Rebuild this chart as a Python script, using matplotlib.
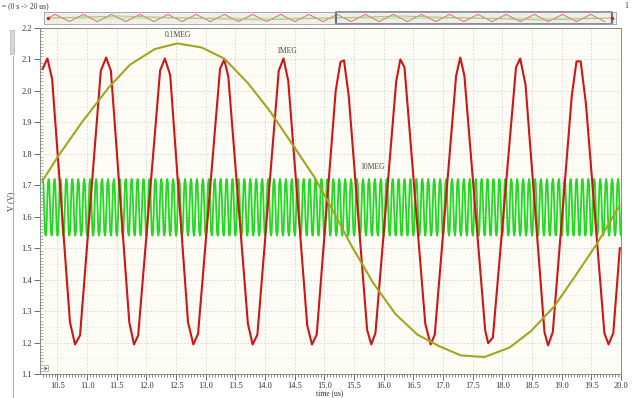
import numpy as np
import matplotlib
matplotlib.use("Agg")
import matplotlib.pyplot as plt
from matplotlib.ticker import MultipleLocator, FormatStrFormatter
from matplotlib.patches import Rectangle
from matplotlib.lines import Line2D

# ---------------------------------------------------------------
# datos (tiempo en us, tension en V)
# ---------------------------------------------------------------
# 1MEG: vertices de la traza roja
t_1meg = [10.25, 10.33, 10.41, 10.71, 10.795, 10.88,
          11.23, 11.32, 11.40, 11.71, 11.79, 11.86,
          12.23, 12.31, 12.40, 12.70, 12.79, 12.87,
          13.24, 13.31, 13.38, 13.71, 13.79, 13.87,
          14.23, 14.31, 14.39, 14.71, 14.79, 14.87,
          15.19, 15.27, 15.33, 15.41, 15.72, 15.79, 15.86,
          16.21, 16.28, 16.35, 16.70, 16.79, 16.86,
          17.22, 17.29, 17.36, 17.71, 17.76, 17.84,
          18.23, 18.30, 18.39, 18.71, 18.77, 18.85,
          19.17, 19.25, 19.32, 19.41, 19.72, 19.79, 19.87, 19.98]
v_1meg = [2.070, 2.103, 2.037, 1.265, 1.194, 1.223,
          2.064, 2.106, 2.064, 1.265, 1.194, 1.223,
          2.065, 2.103, 2.050, 1.265, 1.194, 1.228,
          2.070, 2.100, 2.045, 1.260, 1.194, 1.225,
          2.064, 2.103, 2.032, 1.255, 1.194, 1.225,
          2.000, 2.092, 2.097, 1.984, 1.240, 1.194, 1.230,
          2.030, 2.100, 2.075, 1.260, 1.194, 1.225,
          2.048, 2.106, 2.048, 1.239, 1.198, 1.216,
          2.075, 2.103, 2.020, 1.233, 1.191, 1.233,
          1.984, 2.094, 2.094, 1.957, 1.230, 1.194, 1.230, 1.500]

# 0.1MEG: vertices de la traza oliva
t_01meg = [10.25, 10.51, 10.91, 11.36, 11.72, 12.14, 12.52, 12.93, 13.31,
           13.71, 14.08, 14.50, 14.84, 15.09, 15.45, 15.82, 16.20, 16.57,
           16.94, 17.30, 17.70, 18.12, 18.48, 18.88, 19.24, 19.58, 19.97]
v_01meg = [1.715, 1.792, 1.900, 2.010, 2.083, 2.133, 2.151, 2.138, 2.103,
           2.025, 1.936, 1.819, 1.723, 1.638, 1.510, 1.390, 1.290, 1.225,
           1.188, 1.159, 1.154, 1.184, 1.236, 1.316, 1.415, 1.510, 1.633]

# 10MEG: un ciclo de la traza verde (pico 1.72, valle 1.54), periodo 0.1 us
ciclo_10meg = [1.720, 1.705, 1.630, 1.555, 1.540, 1.555, 1.630, 1.705]
t0_10meg, n_ciclos_10meg = 10.25, 98

# tira de vista general (0 -> 20 us)
ciclo_tira_1meg = [1.65, 2.10, 1.65, 1.20]
ciclo_tira_10meg = [1.72, 1.54]

etiquetas = ["0.1MEG", "1MEG", "10MEG"]
pos_etiquetas = [(12.53, 2.179), (14.36, 2.126), (15.81, 1.757)]

ROJO = "#cf1515"
VERDE = "#22d822"
OLIVA = "#a3a521"

# ---------------------------------------------------------------
# figura
# ---------------------------------------------------------------
W, H = 633, 398
fig = plt.figure(figsize=(W / 100, H / 100), dpi=100)
fig.patch.set_facecolor("white")
plt.rcParams["font.family"] = ["Liberation Serif", "DejaVu Serif"]

ax = fig.add_axes([40 / W, 1 - 374 / H, (621 - 40) / W, (374 - 28) / H])
ax.set_facecolor("#fdfdf6")

# traza verde: se repite el ciclo leido
v_10meg = np.tile(ciclo_10meg, n_ciclos_10meg)
t_10meg = t0_10meg + np.arange(len(v_10meg)) * (0.1 / len(ciclo_10meg))
ax.plot(t_10meg, v_10meg, color=VERDE, lw=1.3, zorder=2)
ax.plot(t_1meg, v_1meg, color=ROJO, lw=1.5, zorder=3)
ax.plot(t_01meg, v_01meg, color=OLIVA, lw=1.5, zorder=4)

for txt, (x, y) in zip(etiquetas, pos_etiquetas):
    ax.text(x, y, txt, fontsize=5.5, color="#444444", ha="center", va="center")

ax.set_xlim(10.205, 20.0)
ax.set_ylim(1.1, 2.2)
ax.xaxis.set_major_locator(MultipleLocator(0.5))
ax.xaxis.set_minor_locator(MultipleLocator(0.05))
ax.yaxis.set_major_locator(MultipleLocator(0.1))
ax.yaxis.set_minor_locator(MultipleLocator(0.01))
ax.xaxis.set_major_formatter(FormatStrFormatter("%.1f"))
ax.yaxis.set_major_formatter(FormatStrFormatter("%.1f"))
ax.tick_params(axis="both", which="major", labelsize=6, length=4, width=0.6,
               color="#555555", labelcolor="#333333", pad=2)
ax.tick_params(axis="x", which="major", pad=1.5)
ax.tick_params(axis="x", which="minor", length=2.5, width=0.5, color="#555555")
ax.tick_params(axis="y", which="minor", length=2, width=0.4, color="#777777",
               direction="in")

# rejilla: principal punteada y lineas horizontales cada 0.05 mas tenues
ax.grid(True, which="major", color="#d4d4d4", lw=0.6, ls=(0, (2, 2)), zorder=0)
for yv in np.arange(1.15, 2.2, 0.1):
    ax.axhline(yv, color="#e6e6e6", lw=0.5, ls=(0, (2, 2)), zorder=0)
ax.set_axisbelow(True)
for s in ax.spines.values():
    s.set_color("#8a8a8a")
    s.set_linewidth(0.7)

ax.set_ylabel("V (V)", fontsize=6, color="#333333", labelpad=4)
fig.text(330 / W, 1 - 393.5 / H, "time (us)", fontsize=5.5, color="#333333",
         ha="center", va="center")

# boton pequeno abajo a la izquierda
ax.text(0.008, 0.01, "\u25b8", transform=ax.transAxes, fontsize=4,
        family="DejaVu Sans", color="#555555", va="bottom",
        bbox=dict(boxstyle="square,pad=0.15", fc="white", ec="#999999", lw=0.5))

# marco de la ventana a la izquierda
fig.add_artist(Line2D([13 / W, 13 / W], [0, 1 - 56 / H], color="#b0b0b0", lw=0.8))
fig.add_artist(Rectangle((10 / W, 1 - 54 / H), 4 / W, 24 / H, fc="#d8d8d8",
                         ec="#b0b0b0", lw=0.5))

# ---------------------------------------------------------------
# tira de vista general
# ---------------------------------------------------------------
tira = fig.add_axes([44 / W, 1 - 24 / H, (616 - 44) / W, 12 / H])
tira.set_facecolor("#eeeeea")
vr = np.tile(ciclo_tira_1meg, 20)
tr = np.arange(len(vr)) * (1.0 / len(ciclo_tira_1meg))
vg = np.tile(ciclo_tira_10meg, 200)
tg = np.arange(len(vg)) * 0.05
tira.plot(tg, vg, color="#8ee88e", lw=0.4)
tira.plot(tr, vr, color="#e07070", lw=0.7)
tira.plot([0, 2.5, 7.5, 12.5, 17.5, 20], [1.65, 1.9, 1.4, 1.9, 1.4, 1.65],
          color="#b8ba60", lw=0.6)
tira.set_xlim(-0.15, 20.15)
tira.set_ylim(0.9, 2.4)
tira.set_xticks([])
tira.set_yticks([])
for s in tira.spines.values():
    s.set_color("#a0a0a0")
    s.set_linewidth(0.6)
tira.add_patch(Rectangle((10.2, 0.9), 9.8, 1.5, fill=False, ec="#7a7f90", lw=1.2,
                         clip_on=False))
tira.plot([10.2, 20.0], [1.65, 1.65], ls="none", marker="|", ms=7, mew=1.5,
          color="#6b7080", clip_on=False)
tira.plot([0, 20.0], [1.65, 1.65], ls="none", marker="o", ms=1.5, color="#d02020",
          clip_on=False)

fig.text(2 / W, 1 - 6 / H, "= (0 s -> 20 us)", fontsize=5.5, color="#333333",
         va="center", ha="left")
fig.text(626 / W, 1 - 6 / H, "1", fontsize=5.5, color="#333333", va="center",
         ha="center")

fig.savefig("out.png", dpi=100, facecolor=fig.get_facecolor())
